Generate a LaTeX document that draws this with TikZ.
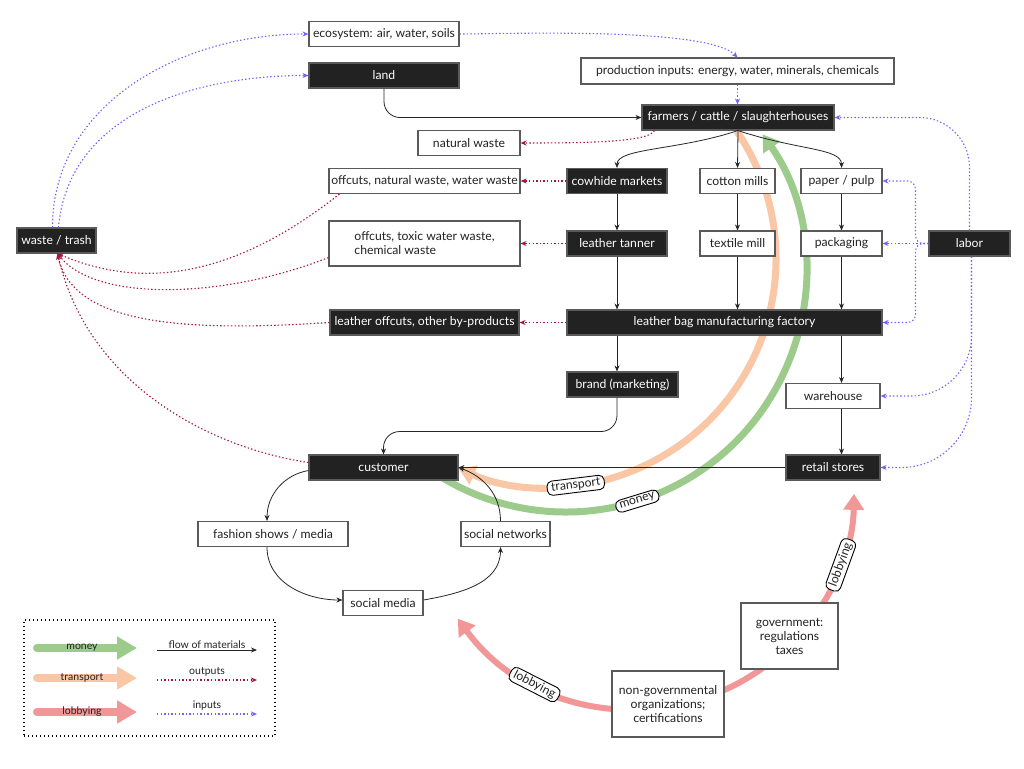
\documentclass[tikz,border=0pt]{standalone}
\usepackage{fontspec}
\setmainfont{Lato}
\usetikzlibrary{arrows.meta,positioning,backgrounds}
\definecolor{boxline}{HTML}{5A5A5A}
\definecolor{boxdark}{HTML}{222222}
\definecolor{outred}{HTML}{A3173A}
\definecolor{inblue}{HTML}{7A5CFF}
\definecolor{moneygreen}{HTML}{9CCB8C}
\definecolor{transorange}{HTML}{F9C7A6}
\definecolor{lobbyred}{HTML}{F19797}

\begin{document}
\begin{tikzpicture}[x=1pt,y=1pt,>={Stealth[length=6pt,width=5pt]},
        font=\fontsize{12.2}{14}\selectfont,
        whitebox/.style={draw=boxline,line width=1.1pt,fill=white,text=boxdark,minimum height=25pt,inner xsep=2pt,inner ysep=2pt},
        darkbox/.style={whitebox,fill=boxdark,text=white},
        flowline/.style={line width=0.8pt,black!85},
        flow/.style={->,flowline,draw},
        outarrow/.style={->,outred,line width=1.1pt,dash pattern=on 1.4pt off 2.2pt},
        inarrow/.style={->,inblue,line width=1.1pt,dash pattern=on 1.4pt off 2.2pt},
        fat/.style={line width=7pt,-{Triangle[length=16pt,width=20pt]}},
        fatleg/.style={line width=8pt,line cap=round,-{Triangle[length=20pt,width=22pt]}},
        tag/.style={draw,fill=white,text=boxdark,rounded corners=5pt,line width=0.9pt,inner xsep=4pt,inner ysep=2pt},
        legtext/.style={font=\fontsize{10.5}{12}\selectfont,text=boxdark,inner sep=1pt}]
        \useasboundingbox (0,0) rectangle (1024,-768);

        \node[whitebox,minimum width=150pt] (eco) at (384,-34) {ecosystem: air, water, soils};
        \node[darkbox,minimum width=150pt] (land) at (384,-75.5) {land};
        \node[whitebox,minimum width=313pt,minimum height=26pt] (prod) at (737.5,-71) {production inputs: energy, water, minerals, chemicals};
        \node[darkbox,minimum width=192pt] (farmers) at (738,-117.5) {farmers / cattle / slaughterhouses};
        \node[whitebox,minimum width=102pt] (natural) at (469,-143) {natural waste};
        \node[whitebox,minimum width=191pt] (offnat) at (424.5,-181) {offcuts, natural waste, water waste};
        \node[darkbox,minimum width=100pt] (cowhide) at (617,-181) {cowhide markets};
        \node[whitebox,minimum width=75pt] (cotton) at (737.5,-181) {cotton mills};
        \node[whitebox,minimum width=81pt] (paper) at (841.5,-181) {paper / pulp};
        \node[darkbox,minimum width=79pt] (waste) at (56.5,-240.5) {waste / trash};
        \node[whitebox,minimum width=191pt,minimum height=45pt,align=left] (offtox) at (424.5,-243.5) {offcuts, toxic water waste,\\chemical waste};
        \node[darkbox,minimum width=100pt] (tanner) at (617,-243.5) {leather tanner};
        \node[whitebox,minimum width=75pt] (textile) at (737.5,-243.5) {textile mill};
        \node[whitebox,minimum width=81pt] (packaging) at (841.5,-243.5) {packaging};
        \node[darkbox,minimum width=81pt] (labor) at (969.5,-243.5) {labor};
        \node[darkbox,minimum width=189pt] (byprod) at (424.5,-322.5) {leather offcuts, other by-products};
        \node[darkbox,minimum width=315pt] (factory) at (724.5,-322.5) {leather bag manufacturing factory};
        \node[darkbox,minimum width=111pt] (brand) at (622.5,-384.5) {brand (marketing)};
        \node[whitebox,minimum width=94pt] (warehouse) at (833,-396) {warehouse};
        \node[darkbox,minimum width=149pt] (customer) at (383.5,-467.5) {customer};
        \node[darkbox,minimum width=94pt] (retail) at (833,-467.5) {retail stores};
        \node[whitebox,minimum width=150pt] (fashion) at (273,-534) {fashion shows / media};
        \node[whitebox,minimum width=89pt] (networks) at (505.5,-534) {social networks};
        \node[whitebox,minimum width=80pt] (socialmedia) at (383,-603) {social media};
        \node[whitebox,minimum width=97pt,minimum height=66pt,align=center] (gov) at (789.5,-636) {government:\\regulations\\taxes};
        \node[whitebox,minimum width=112pt,minimum height=66pt,align=center] (ngo) at (668,-704) {non-governmental\\organizations;\\certifications};

        \begin{scope}[on background layer]
            \coordinate (tc) at (548,-259);
            \coordinate (mc) at (566,-272);
            \coordinate (lc) at (635,-490);
            \draw[fat,transorange] (tc) ++(34:228) arc[start angle=34,end angle=-113,radius=228];
            \draw[fat,moneygreen] (mc) ++(236:240) arc[start angle=236,end angle=395,radius=240];
            \draw[line width=6pt,lobbyred,{Triangle[length=16pt,width=20pt]}-{Triangle[length=16pt,width=20pt]}] (lc) ++(216:219) arc[start angle=216,end angle=359,radius=219];
        \end{scope}
        \node[tag,rotate=7] (ttag) at ([shift={(-83:228)}]tc) {transport};
        \node[tag,rotate=17] (mtag) at ([shift={(287.3:240)}]mc) {money};
        \node[tag,rotate=-27] (ltag1) at ([shift={(242.7:219)}]lc) {lobbying};
        \node[tag,rotate=70] (ltag2) at ([shift={(340:219)}]lc) {lobbying};

        \draw[flow,rounded corners=16pt] (land.south) |- (farmers.west);
        \draw[flow] (farmers.south) .. controls +(-60,-20) and +(0,20) .. (cowhide.north);
        \draw[flow] (farmers.south) .. controls +(60,-20) and +(0,20) .. (paper.north);
        \path[->,flowline] (farmers.south) edge (cotton.north)
                    (cowhide) edge (tanner)
                    (cotton) edge (textile)
                    (paper) edge (packaging)
                    (tanner) edge (tanner |- factory.north)
                    (textile) edge (textile |- factory.north)
                    (packaging) edge (packaging |- factory.north)
                    (factory.south -| tanner) edge (brand.north -| tanner)
                    (factory.south -| packaging) edge (warehouse.north -| packaging)
                    (warehouse.south -| packaging) edge (retail.north -| packaging)
                    (retail) edge (customer);
        \draw[flow,rounded corners=16pt] (brand.south -| tanner) -- ++(0,-34) -| (customer.north);
        \draw[flow] ([yshift=-3]customer.west) to[out=190,in=90] ([xshift=-6]fashion.north);
        \draw[flow] ([xshift=-6]fashion.south) to[out=-90,in=180] ([yshift=3]socialmedia.west);
        \draw[flow] ([yshift=3]socialmedia.east) to[out=10,in=-90] ([xshift=-5]networks.south);
        \draw[flow] ([xshift=-5]networks.north) to[out=90,in=-20] (customer.east);

        \draw[inarrow] (eco.east) to[out=0,in=135,looseness=0.4] (prod.north);
        \draw[inarrow] (prod.south) -- (prod.south |- farmers.north);
        \draw[inarrow] ([xshift=-4]waste.north) to[out=90,in=180] (eco.west);
        \draw[inarrow] ([xshift=2]waste.north) to[out=85,in=180] (land.west);
        \draw[inarrow,rounded corners=50pt] (labor.north) |- (farmers.east);
        \draw[inarrow] (labor) -- (packaging);
        \draw[inarrow,rounded corners=8pt] (labor.west) -- ++(-13,0) |- (paper.east);
        \draw[inarrow,rounded corners=8pt] (labor.west) -- ++(-13,0) |- (factory.east);
        \draw[inarrow,rounded corners=60pt] ([xshift=2]labor.south) |- (warehouse.east);
        \draw[inarrow,rounded corners=70pt] ([xshift=2]labor.south) |- (retail.east);

        \draw[outarrow] ([xshift=13]farmers.south west) .. controls +(-5,-12) and +(60,0) .. (natural.east);
        \draw[outarrow] (cowhide) -- (offnat);
        \draw[outarrow] (tanner) -- (offtox);
        \draw[outarrow] (factory) -- (byprod);
        \draw[outarrow] ([xshift=11]offnat.south west) .. controls +(-120,-95) and +(70,-30) .. ([xshift=1]waste.south);
        \draw[outarrow] ([yshift=-14]offtox.west) .. controls +(-100,-40) and +(40,-50) .. ([xshift=1]waste.south);
        \draw[outarrow] (byprod.west) .. controls +(-150,-10) and +(15,-70) .. ([xshift=1]waste.south);
        \draw[outarrow] ([yshift=5]customer.west) .. controls +(-100,15) and +(30,-130) .. ([xshift=1]waste.south);

        \node[draw,line width=1.1pt,dash pattern=on 1.2pt off 2.8pt,minimum width=251pt,minimum height=116pt] (legendbox) at (149.5,-678) {};
        \coordinate (lm1) at (37,-648);
        \coordinate (lm2) at (137,-648);
        \coordinate (lt1) at (37,-678);
        \coordinate (lt2) at (137,-678);
        \coordinate (ll1) at (37,-712);
        \coordinate (ll2) at (137,-712);
        \draw[fatleg,moneygreen] (lm1) -- node[legtext,pos=0.45]{money} (lm2);
        \draw[fatleg,transorange] (lt1) -- node[legtext,pos=0.45]{transport} (lt2);
        \draw[fatleg,lobbyred] (ll1) -- node[legtext,pos=0.45]{lobbying} (ll2);
        \coordinate (lf1) at (157,-650);
        \coordinate (lf2) at (257,-650);
        \coordinate (lo1) at (157,-680);
        \coordinate (lo2) at (257,-680);
        \coordinate (li1) at (157,-714);
        \coordinate (li2) at (257,-714);
        \draw[flow] (lf1) -- node[legtext,above]{flow of materials} (lf2);
        \draw[outarrow] (lo1) -- node[legtext,above=2pt]{outputs} (lo2);
        \draw[inarrow] (li1) -- node[legtext,above=2pt]{inputs} (li2);
    \end{tikzpicture}
\end{document}
